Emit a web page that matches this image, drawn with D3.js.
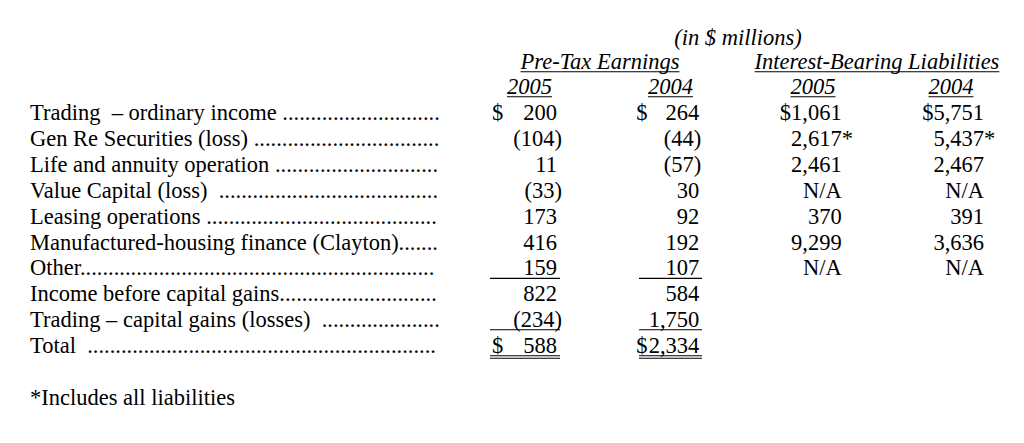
<!DOCTYPE html>
<html>
<head>
<meta charset="utf-8">
<script src="https://cdn.jsdelivr.net/npm/d3@7"></script>
<style>
  html, body { margin: 0; padding: 0; background: #fff; }
  svg text { font-family: "Liberation Serif", "Times New Roman", serif; fill: #000; white-space: pre; }
</style>
</head>
<body>
<svg id="chart" width="1024" height="443"></svg>
<script>
// ---- data ----
const unitsLabel = "(in $ millions)";
const groupLabels = ["Pre-Tax Earnings", "Interest-Bearing Liabilities"];
const yearLabels = ["2005", "2004", "2005", "2004"];
const categories = [
  "Trading  \u2013 ordinary income ",
  "Gen Re Securities (loss) ",
  "Life and annuity operation ",
  "Value Capital (loss)  ",
  "Leasing operations ",
  "Manufactured-housing finance (Clayton)",
  "Other",
  "Income before capital gains",
  "Trading \u2013 capital gains (losses)  ",
  "Total  "
];
const pretax2005 = [200, -104, 11, -33, 173, 416, 159, 822, -234, 588];
const pretax2004 = [264, -44, -57, 30, 92, 192, 107, 584, 1750, 2334];
const liab2005 = [1061, 2617, 2461, null, 370, 9299, null];
const liab2004 = [5751, 5437, 2467, null, 391, 3636, null];
const liabFootnoteRows = [1];
const dollarRows = [0, 9];
const footnote = "*Includes all liabilities";

// ---- layout ----
const svg = d3.select("#chart");
const fs = 22.5;
const labelX = 30, leaderEnd = 441;

const y = d3.scaleLinear().domain([0, 9]).range([120, 353.1]);
const colKeys = ["p05", "p04", "l05", "l04"];
const x = d3.scalePoint().domain(colKeys).range([557, 984]);
const dollarOffset = {p05: 65, p04: 63, l05: 61, l04: 59};
const parenHang = {p05: 5, p04: 2, l05: 0, l04: 0};
const columns = [
  {key: "p05", values: pretax2005},
  {key: "p04", values: pretax2004},
  {key: "l05", values: liab2005},
  {key: "l04", values: liab2004}
];
const fmt = d3.format(",");
const fmtVal = v => v == null ? "N/A" : (v < 0 ? "(" + fmt(-v) + ")" : fmt(v));

// header
svg.append("text").attr("x", 738).attr("y", 45).attr("text-anchor", "middle")
  .attr("font-size", fs).attr("font-style", "italic").text(unitsLabel);

const groupCenters = [600, 877];
groupLabels.forEach((g, i) => {
  const t = svg.append("text").attr("x", groupCenters[i]).attr("y", 69).attr("text-anchor", "middle")
    .attr("font-size", fs).attr("font-style", "italic").text(g);
  const w = t.node().getComputedTextLength();
  svg.append("line").attr("x1", groupCenters[i] - w / 2).attr("x2", groupCenters[i] + w / 2)
    .attr("y1", 71.7).attr("y2", 71.7).attr("stroke", "#000").attr("stroke-width", 1.1);
});
const yearCenters = [529.5, 670.5, 813, 951];
yearLabels.forEach((yl, i) => {
  const t = svg.append("text").attr("x", yearCenters[i]).attr("y", 94).attr("text-anchor", "middle")
    .attr("font-size", fs).attr("font-style", "italic").text(yl);
  const w = t.node().getComputedTextLength();
  svg.append("line").attr("x1", yearCenters[i] - w / 2).attr("x2", yearCenters[i] + w / 2)
    .attr("y1", 96.7).attr("y2", 96.7).attr("stroke", "#000").attr("stroke-width", 1.1);
});

// labels with dot leaders
const probe = svg.append("text").attr("font-size", fs).text(".".repeat(100));
const dotW = probe.node().getComputedTextLength() / 100;
probe.remove();
categories.forEach((c, i) => {
  const t = svg.append("text").attr("x", labelX).attr("y", y(i)).attr("font-size", fs).text(c);
  const L = t.node().getComputedTextLength();
  const n = Math.max(0, Math.floor((leaderEnd - labelX - L) / dotW));
  t.text(c + ".".repeat(n));
});

// values
const dprobe = svg.append("text").attr("font-size", fs).text("$");
const dollarW = dprobe.node().getComputedTextLength();
dprobe.remove();
columns.forEach(col => {
  const cx = x(col.key);
  col.values.forEach((v, i) => {
    const s = fmtVal(v);
    const right = (v != null && v < 0) ? cx + parenHang[col.key] : cx;
    const t = svg.append("text").attr("x", right).attr("y", y(i)).attr("text-anchor", "end")
      .attr("font-size", fs).text(s);
    if (dollarRows.includes(i)) {
      const w = t.node().getComputedTextLength();
      const dx = Math.min(cx - dollarOffset[col.key], right - w - dollarW);
      svg.append("text").attr("x", dx).attr("y", y(i)).attr("font-size", fs).text("$");
    }
    if ((col.key === "l05" || col.key === "l04") && liabFootnoteRows.includes(i)) {
      svg.append("text").attr("x", cx).attr("y", y(i)).attr("font-size", fs).text("*");
    }
  });
});

// rules
const ruleSpans = {p05: [490, 560], p04: [639, 702]};
function rule(key, yy) {
  svg.append("line").attr("x1", ruleSpans[key][0]).attr("x2", ruleSpans[key][1])
    .attr("y1", yy).attr("y2", yy).attr("stroke", "#000").attr("stroke-width", 1.1);
}
["p05", "p04"].forEach(k => {
  rule(k, y(6) + 3);
  rule(k, y(8) + 2.5);
  rule(k, y(9) + 2.7);
  rule(k, y(9) + 5.2);
});

// footnote
svg.append("text").attr("x", labelX).attr("y", 405).attr("font-size", fs).text(footnote);
</script>
</body>
</html>
